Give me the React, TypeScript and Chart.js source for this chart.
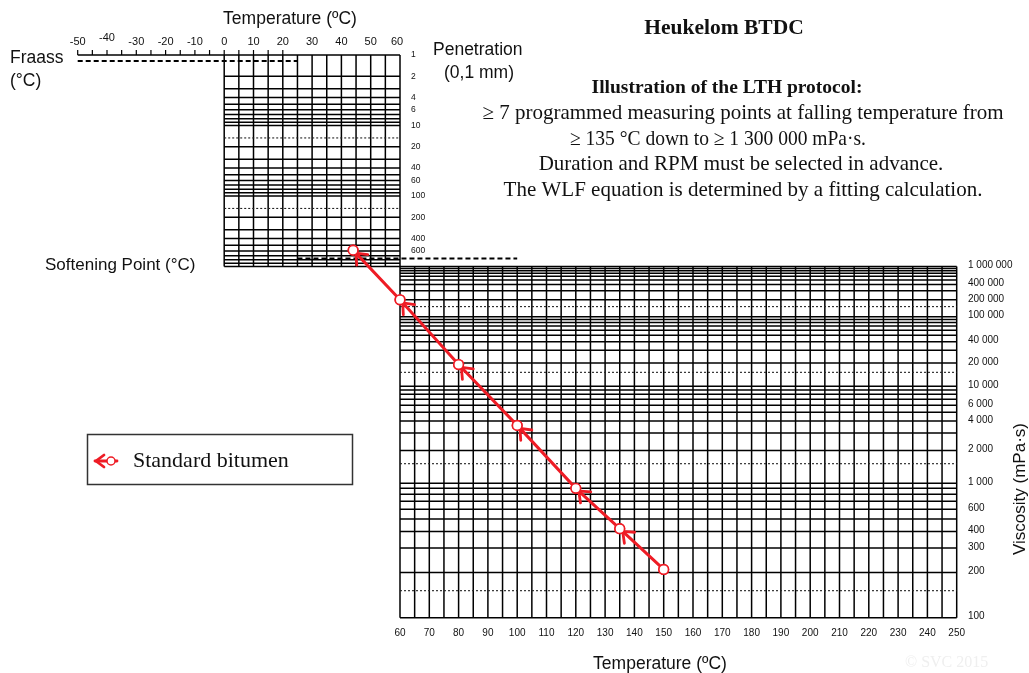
import React, { useEffect, useRef } from 'react';
import { Chart, registerables } from 'chart.js';

Chart.register(...registerables);

// ---------------- data ----------------
const seriesLabel = 'Standard bitumen';
const temperatures = [44, 60, 80, 100, 120, 135, 150];
const viscosities = [2600000, 200000, 19000, 3600, 900, 420, 210];

const topTempTicks = [-50, -40, -30, -20, -10, 0, 10, 20, 30, 40, 50, 60];
const bottomTempTicks = [60, 70, 80, 90, 100, 110, 120, 130, 140, 150, 160, 170, 180, 190, 200, 210, 220, 230, 240, 250];
const penetrationTicks = [1, 2, 4, 6, 10, 20, 40, 60, 100, 200, 400, 600];
const viscosityTicks = [1000000, 400000, 200000, 100000, 40000, 20000, 10000, 6000, 4000, 2000, 1000, 600, 400, 300, 200, 100];
const viscosityTickLabels = ['1 000 000', '400 000', '200 000', '100 000', '40 000', '20 000', '10 000', '6 000', '4 000', '2 000', '1 000', '600', '400', '300', '200', '100'];

const titleText = 'Heukelom BTDC';
const protocolTitle = 'Illustration of the LTH protocol:';
const protocolLines = [
  '\u2265 7 programmed measuring points at falling temperature from',
  '\u2265 135 \u00B0C down to \u2265 1 300 000 mPa\u00B7s.',
  'Duration and RPM must be selected in advance.',
  'The WLF equation is determined by a fitting calculation.',
];

// ------------- scale transforms (BTDC axes) -------------
const VISC_EXP = 0.143; // viscosity axis: power-law compressed scale
const viscY = (v: number) => Math.pow(v, -VISC_EXP);
const PEN_DECADE = 0.0761; // penetration axis: log scale, 1000 aligned with 1e6 mPa.s
const penY = (p: number) => viscY(1e6) - PEN_DECADE * (3 - Math.log10(p));

const SANS = '"Liberation Sans", Arial, sans-serif';
const SERIF = '"Liberation Serif", "Times New Roman", serif';
const RED = '#ee1c25';

const btdcPlugin = {
  id: 'btdc',
  beforeDatasetsDraw(chart: any) {
    const { ctx, scales } = chart;
    const xs = scales.x, ys = scales.y;
    const X = (t: number) => xs.getPixelForValue(t);
    const YP = (p: number) => ys.getPixelForValue(penY(p));
    const YV = (v: number) => ys.getPixelForValue(viscY(v));
    ctx.save();
    const line = (x1: number, y1: number, x2: number, y2: number, w: number, dash: number[] = []) => {
      ctx.beginPath();
      ctx.setLineDash(dash);
      ctx.lineWidth = w;
      ctx.moveTo(x1, y1);
      ctx.lineTo(x2, y2);
      ctx.stroke();
    };
    ctx.strokeStyle = '#000';
    const GW = 1.5;

    // ----- upper (penetration) panel -----
    const upTop = YP(1), upBot = YP(1000);
    for (let t = 0; t <= 60; t += 5) line(X(t), upTop, X(t), upBot, GW);
    for (const d of [1, 10, 100]) {
      for (let m = 1; m <= 9; m++) line(X(0), YP(m * d), X(60), YP(m * d), GW);
    }
    line(X(0), upBot, X(60), upBot, GW);
    ctx.strokeStyle = '#222';
    for (const p of [15, 150]) line(X(0), YP(p), X(60), YP(p), 1.1, [2, 2]);
    ctx.strokeStyle = '#000';

    // ----- lower (viscosity) panel -----
    const loTop = YV(1e6), loBot = YV(100);
    for (let t = 60; t <= 250; t += 5) line(X(t), loTop, X(t), loBot, GW);
    for (const d of [100, 1000, 10000, 100000]) {
      for (let m = 1; m <= 9; m++) line(X(60), YV(m * d), X(250), YV(m * d), GW);
    }
    line(X(60), loTop, X(250), loTop, GW);
    ctx.strokeStyle = '#222';
    for (const v of [150, 1500, 15000, 150000]) line(X(60), YV(v), X(250), YV(v), 1.1, [2, 2]);
    ctx.strokeStyle = '#000';

    // ----- Fraass axis -----
    line(X(-50), upTop, X(0), upTop, 1.4);
    for (let t = -50; t <= 20; t += 5) line(X(t), upTop, X(t), upTop - 5, 1.2);
    line(X(-50), upTop + 6, X(25), upTop + 6, 2, [5, 3]);

    // ----- softening point axis -----
    line(X(25), upBot - 8, X(100), upBot - 8, 2, [5, 3]);

    ctx.restore();
  },
  afterDatasetsDraw(chart: any) {
    const { ctx } = chart;
    const meta = chart.getDatasetMeta(0);
    const pts = meta.data;
    ctx.save();
    ctx.strokeStyle = RED;
    ctx.lineWidth = 2.8;
    ctx.lineCap = 'round';
    for (let i = 0; i < pts.length - 1; i++) {
      const a = pts[i], b = pts[i + 1];
      const dx = b.x - a.x, dy = b.y - a.y;
      const len = Math.hypot(dx, dy);
      const ux = dx / len, uy = dy / len; // toward next (hotter) point
      const ax = a.x + ux * 4, ay = a.y + uy * 4;
      const ang = Math.atan2(uy, ux);
      const wl = 12, spread = 0.68;
      ctx.beginPath();
      ctx.moveTo(ax + Math.cos(ang - spread) * wl, ay + Math.sin(ang - spread) * wl);
      ctx.lineTo(ax, ay);
      ctx.lineTo(ax + Math.cos(ang + spread) * wl, ay + Math.sin(ang + spread) * wl);
      ctx.stroke();
    }
    for (const p of pts) {
      ctx.beginPath();
      ctx.arc(p.x, p.y, 4.8, 0, Math.PI * 2);
      ctx.fillStyle = '#fff';
      ctx.fill();
      ctx.lineWidth = 1.6;
      ctx.stroke();
    }
    ctx.restore();
  },
  afterDraw(chart: any) {
    const { ctx, scales } = chart;
    const xs = scales.x, ys = scales.y;
    const X = (t: number) => xs.getPixelForValue(t);
    const YP = (p: number) => ys.getPixelForValue(penY(p));
    const YV = (v: number) => ys.getPixelForValue(viscY(v));
    ctx.save();
    ctx.fillStyle = '#111';
    ctx.textBaseline = 'middle';

    // top temperature axis
    ctx.font = `11px ${SANS}`;
    ctx.textAlign = 'center';
    for (const t of topTempTicks) ctx.fillText(String(t), X(t) - (t === 60 ? 3 : 0), t === -40 ? 38 : 42);
    ctx.font = `17.5px ${SANS}`;
    ctx.fillText('Temperature (\u00BAC)', 290, 19);

    // penetration labels
    ctx.font = `8.5px ${SANS}`;
    ctx.textAlign = 'left';
    for (const p of penetrationTicks) ctx.fillText(String(p), X(60) + 11, YP(p));
    ctx.font = `17.5px ${SANS}`;
    ctx.fillText('Penetration', 433, 50);
    ctx.fillText('(0,1 mm)', 444, 73);

    // Fraass & softening point
    ctx.font = `17.5px ${SANS}`;
    ctx.fillText('Fraass', 10, 58);
    ctx.fillText('(\u00B0C)', 10, 81);
    ctx.font = `17px ${SANS}`;
    ctx.fillText('Softening Point (\u00B0C)', 45, 265);

    // bottom temperature axis
    ctx.font = `10px ${SANS}`;
    ctx.textAlign = 'center';
    for (const t of bottomTempTicks) ctx.fillText(String(t), X(t), 633);
    ctx.font = `17.5px ${SANS}`;
    ctx.fillText('Temperature (\u00BAC)', 660, 664);

    // viscosity labels
    ctx.font = `10px ${SANS}`;
    ctx.textAlign = 'left';
    viscosityTicks.forEach((v, i) => ctx.fillText(viscosityTickLabels[i], 968, YV(v) - 1));
    ctx.save();
    ctx.translate(1020, 489);
    ctx.rotate(-Math.PI / 2);
    ctx.textAlign = 'center';
    ctx.font = `17px ${SANS}`;
    ctx.fillText('Viscosity (mPa\u00B7s)', 0, 0);
    ctx.restore();

    // titles
    ctx.textAlign = 'center';
    ctx.font = `bold 21.5px ${SERIF}`;
    ctx.fillText(titleText, 724, 28);
    ctx.font = `bold 19.5px ${SERIF}`;
    ctx.fillText(protocolTitle, 727, 88);
    ctx.font = `21px ${SERIF}`;
    ctx.fillText(protocolLines[0], 743, 113, 530);
    ctx.fillText(protocolLines[1], 718, 139, 296);
    ctx.fillText(protocolLines[2], 741, 164, 408);
    ctx.fillText(protocolLines[3], 743, 190, 483);

    // legend
    ctx.strokeStyle = '#333';
    ctx.lineWidth = 1.5;
    ctx.strokeRect(87.5, 434.5, 265, 50);
    ctx.strokeStyle = RED;
    ctx.lineWidth = 2.8;
    ctx.lineCap = 'round';
    ctx.beginPath();
    ctx.moveTo(95, 461);
    ctx.lineTo(117, 461);
    ctx.stroke();
    ctx.beginPath();
    ctx.moveTo(104, 455);
    ctx.lineTo(96, 461);
    ctx.lineTo(104, 467);
    ctx.stroke();
    ctx.beginPath();
    ctx.arc(111, 461, 4, 0, Math.PI * 2);
    ctx.fillStyle = '#fff';
    ctx.fill();
    ctx.lineWidth = 1.5;
    ctx.stroke();
    ctx.fillStyle = '#111';
    ctx.textAlign = 'left';
    ctx.font = `22px ${SERIF}`;
    ctx.fillText(seriesLabel, 133, 461);

    // watermark
    ctx.fillStyle = '#efefef';
    ctx.font = `16px ${SERIF}`;
    ctx.fillText('\u00A9 SVC 2015', 905, 663);
    ctx.restore();
  },
};

export default function App() {
  const ref = useRef<HTMLCanvasElement | null>(null);
  useEffect(() => {
    if (!ref.current) return;
    const chart = new Chart(ref.current, {
      type: 'scatter',
      data: {
        datasets: [
          {
            label: seriesLabel,
            data: temperatures.map((t, i) => ({ x: t, y: viscY(viscosities[i]) })),
            showLine: true,
            borderColor: RED,
            borderWidth: 3,
            pointRadius: 4.8,
            pointBackgroundColor: '#fff',
            pointBorderColor: RED,
            pointBorderWidth: 1.6,
          },
        ],
      },
      options: {
        responsive: false,
        animation: false,
        devicePixelRatio: 1,
        layout: { padding: { left: 77.7, right: 72.3, top: 55, bottom: 55.3 } },
        plugins: { legend: { display: false }, tooltip: { enabled: false }, title: { display: false } },
        scales: {
          x: { type: 'linear', min: -50, max: 250, display: false },
          y: { type: 'linear', min: penY(1), max: viscY(100), reverse: true, display: false },
        },
      },
      plugins: [btdcPlugin],
    });
    return () => chart.destroy();
  }, []);
  return (
    <div style={{ position: 'fixed', left: 0, top: 0, width: 1029, height: 673, background: '#fff' }}>
      <canvas ref={ref} width={1029} height={673} style={{ display: 'block', width: 1029, height: 673 }} />
    </div>
  );
}
